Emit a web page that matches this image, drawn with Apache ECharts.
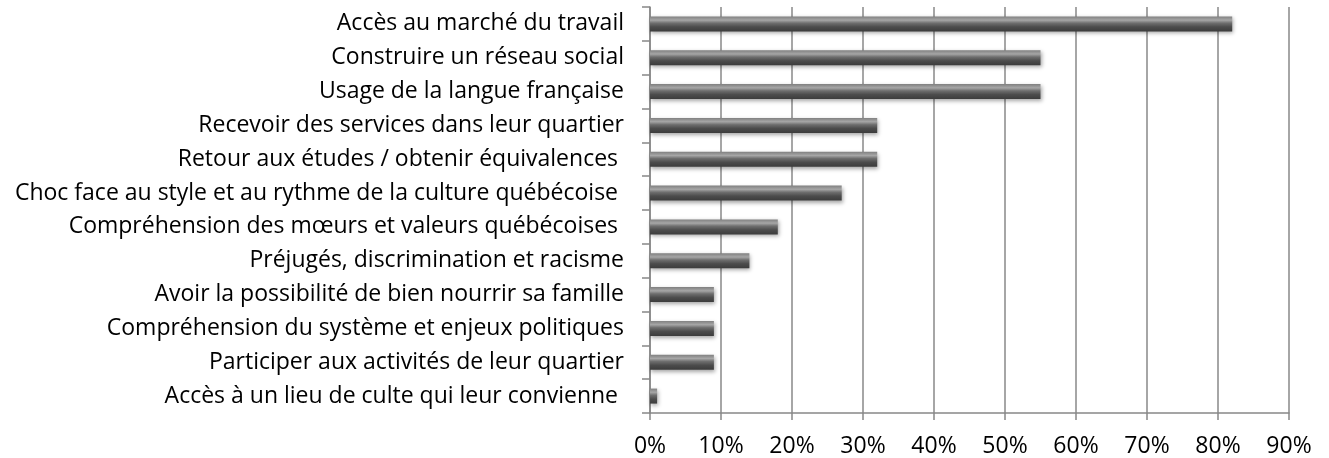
<!DOCTYPE html>
<html>
<head>
<meta charset="utf-8">
<script src="https://cdn.jsdelivr.net/npm/echarts@6/dist/echarts.min.js"></script>
<style>
	html, body { margin: 0; padding: 0; background: #fff; }
	#chart { width: 1329px; height: 458px; }
</style>
</head>
<body>
<div id="chart"></div>
<script>
// categories, top to bottom
var categories = [
	'Accès au marché du travail',
	'Construire un réseau social',
	'Usage de la langue française',
	'Recevoir des services dans leur quartier',
	'Retour aux études / obtenir équivalences ',
	'Choc face au style et au rythme de la culture québécoise ',
	'Compréhension des mœurs et valeurs québécoises ',
	'Préjugés, discrimination et racisme',
	'Avoir la possibilité de bien nourrir sa famille',
	'Compréhension du système et enjeux politiques',
	'Participer aux activités de leur quartier',
	'Accès à un lieu de culte qui leur convienne '
];
// percentages
var values = [82, 55, 55, 32, 32, 27, 18, 14, 9, 9, 9, 1];
var tickLabels = ['0%', '10%', '20%', '30%', '40%', '50%', '60%', '70%', '80%', '90%'];

var myChart = echarts.init(document.getElementById('chart'));
var option = {
	animation: false,
	grid: {
		left: 650,
		right: 40,
		top: 7,
		bottom: 45
	},
	xAxis: {
		type: 'value',
		min: 0,
		max: 90,
		interval: 10,
		axisLine: { show: true, lineStyle: { color: '#888', width: 1.5 } },
		axisTick: { show: true, length: 7, lineStyle: { color: '#888', width: 1.5 } },
		axisLabel: {
			margin: 22,
			color: '#000',
			fontFamily: 'Open Sans',
			fontSize: 23,
			formatter: function(v) {
				return tickLabels[Math.round(v / 10)];
			}
		},
		splitLine: { show: true, lineStyle: { color: '#888', width: 1.5 } }
	},
	yAxis: {
		type: 'category',
		inverse: true,
		data: categories,
		axisLine: { show: true, lineStyle: { color: '#888', width: 1.5 } },
		axisTick: { show: true, length: 8, lineStyle: { color: '#888', width: 1.5 } },
		axisLabel: {
			margin: 26,
			color: '#000',
			fontFamily: 'Open Sans',
			fontSize: 23
		}
	},
	series: [{
		type: 'bar',
		data: values,
		barWidth: 15,
		itemStyle: {
			color: new echarts.graphic.LinearGradient(0, 0, 0, 1, [
				{ offset: 0, color: '#808080' },
				{ offset: 0.25, color: '#a6a6a6' },
				{ offset: 0.45, color: '#6e6e6e' },
				{ offset: 0.7, color: '#4c4c4c' },
				{ offset: 1, color: '#3c3c3c' }
			]),
			shadowColor: 'rgba(0,0,0,0.35)',
			shadowBlur: 4,
			shadowOffsetX: 1,
			shadowOffsetY: 2
		}
	}]
};
myChart.setOption(option);
</script>
</body>
</html>
